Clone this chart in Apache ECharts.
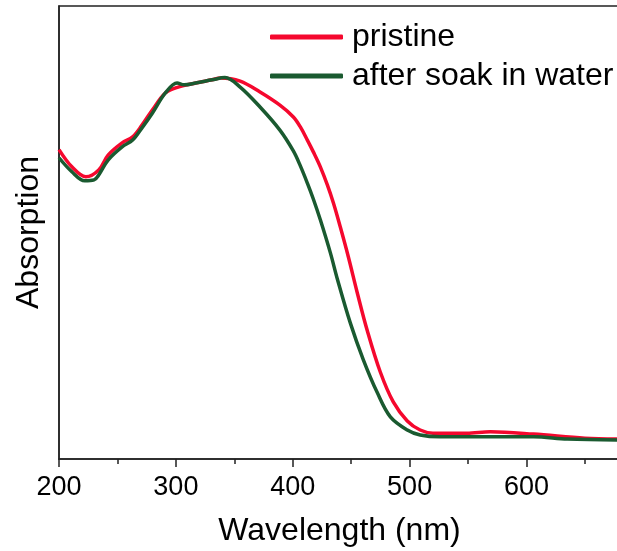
<!DOCTYPE html>
<html>
<head>
<meta charset="utf-8">
<script src="https://cdn.jsdelivr.net/npm/echarts@6/dist/echarts.min.js"></script>
<style>
html,body{margin:0;padding:0;background:#fff;}
#chart{width:617px;height:551px;}
</style>
</head>
<body>
<div id="chart"></div>
<script>
// wavelength (nm) and absorption (arbitrary units, 0-100 scale)
const pristineX = [200,211,223,234,242,254,263,271,280,291,302,317,331,338,355,372,389,400.5,406.5,412.5,417.6,423.6,429.6,434.8,440.7,447.6,455.3,463.8,474.9,486,498,509,520,549,569,606,650,678];
const pristineY = [68.3,64.5,62.3,63.8,67.1,69.8,71.1,73.7,77.1,80.8,82.1,83.0,83.7,84.1,83.4,81.0,78.1,75.5,73.3,70.4,67.8,64.5,60.5,56.5,51.2,44.6,36.6,28.3,19.2,12.6,8.4,6.4,5.7,5.7,6.0,5.5,4.6,4.4];
const soakX = [200,211,222,230,234,242,254,263,271,280,291,301,307,317,331,342,355,372,389,400.5,406.5,412.5,417.6,423.6,432.2,438.2,449.3,460.4,472.4,483.5,498,509,526,569,606,635,678];
const soakY = [66.5,63.4,61.4,61.6,62.7,66.0,68.9,70.4,73.1,76.4,80.8,83.0,82.6,83.0,83.7,84.2,82.1,77.7,72.6,68.0,64.7,60.9,57.4,52.8,45.5,39.7,30.0,21.9,14.6,9.3,6.4,5.3,4.9,4.9,4.9,4.4,4.2];
const seriesNames = ['pristine', 'after soak in water'];
const xTicks = [200,300,400,500,600];

const FONT = '"Liberation Sans", Arial, sans-serif';
const chart = echarts.init(document.getElementById('chart'), null, {renderer:'canvas'});
const zip = (xs, ys) => xs.map((x,i)=>[x, ys[i]]);
chart.setOption({
  animation: false,
  backgroundColor: '#fff',
  grid: {left: 59, top: 6, width: 561, height: 453, show: true, borderColor: '#222', borderWidth: 1.5,
         backgroundColor: 'transparent', outerBoundsMode: 'none', containLabel: false},
  legend: {
    orient: 'vertical', left: 270, top: 19, itemWidth: 73, itemHeight: 5, itemGap: 3, padding: 0,
    icon: 'roundRect',
    textStyle: {fontFamily: FONT, fontSize: 32, color: '#000', lineHeight: 36, padding: [0,0,0,4]},
    data: seriesNames
  },
  xAxis: {
    type: 'value', min: 200, max: 680, interval: 100,
    name: 'Wavelength (nm)', nameLocation: 'middle', nameGap: 56,
    nameTextStyle: {fontFamily: FONT, fontSize: 32, color: '#000'},
    axisLine: {lineStyle: {color: '#222', width: 1.5}},
    axisTick: {show: true, inside: false, length: 8, lineStyle: {color: '#222', width: 1.5}},
    minorTick: {show: true, splitNumber: 2, length: 5, lineStyle: {color: '#222', width: 1.5}},
    splitLine: {show: false},
    axisLabel: {fontFamily: FONT, fontSize: 27, color: '#000', margin: 15, hideOverlap: false,
      formatter: v => xTicks.includes(v) ? String(v) : ''}
  },
  yAxis: {
    type: 'value', min: 0, max: 100,
    name: 'Absorption', nameLocation: 'middle', nameGap: 14,
    nameTextStyle: {fontFamily: FONT, fontSize: 32, color: '#000'},
    axisLine: {show: true, lineStyle: {color: '#222', width: 1.5}},
    axisTick: {show: false}, axisLabel: {show: false}, splitLine: {show: false}
  },
  series: [
    {name: seriesNames[0], type: 'line', data: zip(pristineX, pristineY), smooth: 0.35,
     showSymbol: false, symbol: 'none', clip: true,
     lineStyle: {color: '#F5082E', width: 3.5}, itemStyle: {color: '#F5082E'}},
    {name: seriesNames[1], type: 'line', data: zip(soakX, soakY), smooth: 0.35,
     showSymbol: false, symbol: 'none', clip: true,
     lineStyle: {color: '#1A5A30', width: 3.5}, itemStyle: {color: '#1A5A30'}}
  ]
});
</script>
</body>
</html>
